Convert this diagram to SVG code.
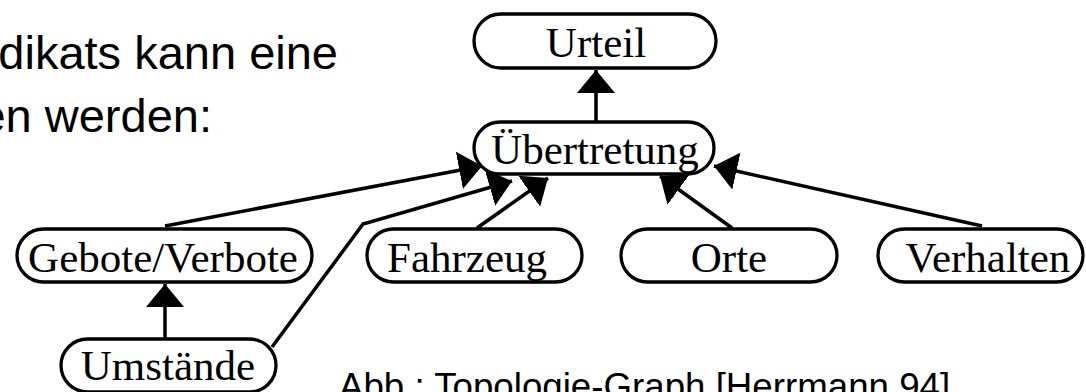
<svg xmlns="http://www.w3.org/2000/svg" width="1086" height="392" viewBox="0 0 1086 392">
  <style>
    .node rect { fill: #ffffff; stroke: #000000; stroke-width: 3.3; }
    .node text { font-family: "Liberation Serif", "Times New Roman", serif; font-size: 43px; fill: #000000; text-anchor: middle; }
    .edge { fill: none; stroke: #000000; stroke-width: 3.5; marker-end: url(#head); }
    .body { font-family: "Liberation Sans", Arial, sans-serif; fill: #000000; }
  </style>
  <defs>
    <marker id="head" viewBox="0 0 23 38" refX="23" refY="19" markerWidth="23" markerHeight="38" markerUnits="userSpaceOnUse" orient="auto">
      <path d="M0,0 L23,19 L0,38 Z" fill="#000000"/>
    </marker>
  </defs>

  <rect width="1086" height="392" fill="#ffffff"/>

  <!-- running text of the page -->
  <text class="body" x="338" y="69" font-size="47" text-anchor="end">dikats kann eine</text>
  <text class="body" x="212" y="132" font-size="47" text-anchor="end">en werden:</text>
  <text class="body" x="339" y="399" font-size="36.7">Abb.: Topologie-Graph [Herrmann 94]</text>

  <!-- connectors (drawn beneath the nodes) -->
  <g id="connectors">
    <line class="edge" x1="596" y1="122" x2="596" y2="70"/>
    <line class="edge" x1="165" y1="226" x2="482" y2="166"/>
    <polyline class="edge" points="272,347 363,224 512,181"/>
    <line class="edge" x1="477" y1="228" x2="548" y2="178"/>
    <line class="edge" x1="732" y1="228" x2="660" y2="176"/>
    <line class="edge" x1="982" y1="226" x2="714" y2="166"/>
    <line class="edge" x1="165" y1="338" x2="165" y2="284"/>
  </g>

  <g id="urteil" class="node">
    <rect x="474" y="14" width="242" height="54" rx="27"/>
    <text x="596" y="57">Urteil</text>
  </g>
  <g id="uebertretung" class="node">
    <rect x="474" y="122" width="240" height="52" rx="26"/>
    <text x="595" y="164">Übertretung</text>
  </g>
  <g id="gebote-verbote" class="node">
    <rect x="17" y="229" width="295" height="53" rx="26.5"/>
    <text x="163" y="272">Gebote/Verbote</text>
  </g>
  <g id="fahrzeug" class="node">
    <rect x="367" y="229" width="215" height="53" rx="26.5"/>
    <text x="467" y="272">Fahrzeug</text>
  </g>
  <g id="orte" class="node">
    <rect x="621" y="229" width="216" height="53" rx="26.5"/>
    <text x="729" y="272">Orte</text>
  </g>
  <g id="verhalten" class="node">
    <rect x="878" y="229" width="205" height="53" rx="26.5"/>
    <text x="988" y="272">Verhalten</text>
  </g>
  <g id="umstaende" class="node">
    <rect x="61" y="339" width="215" height="53" rx="26.5"/>
    <text x="168" y="380">Umstände</text>
  </g>
</svg>
